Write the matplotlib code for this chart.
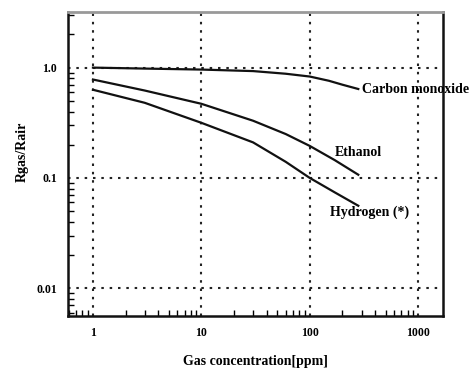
import numpy as np
import matplotlib.pyplot as plt
from matplotlib.ticker import LogLocator, NullFormatter

plt.rcParams['font.family'] = ['Liberation Serif', 'DejaVu Serif']

# values (log-log)
co_x = [1, 3, 10, 30, 60, 100, 150, 200, 280]
co_y = [1.0, 0.98, 0.96, 0.93, 0.88, 0.83, 0.76, 0.7, 0.64]
eth_x = [1, 3, 10, 30, 60, 100, 170, 280]
eth_y = [0.78, 0.62, 0.47, 0.33, 0.25, 0.195, 0.145, 0.107]
h2_x = [1, 3, 10, 30, 60, 100, 170, 280]
h2_y = [0.63, 0.48, 0.316, 0.21, 0.14, 0.1, 0.074, 0.056]

x_ticks = [1, 10, 100, 1000]
x_labels = ['1', '10', '100', '1000']
y_ticks = [0.01, 0.1, 1.0]
y_labels = ['0.01', '0.1', '1.0']

fig = plt.figure(figsize=(4.73, 3.71), dpi=100)
ax = fig.add_axes([0.144, 0.148, 0.793, 0.82])

ax.plot(co_x, co_y, color='#111111', lw=1.6)
ax.plot(eth_x, eth_y, color='#111111', lw=1.6)
ax.plot(h2_x, h2_y, color='#111111', lw=1.6)

ax.set_xscale('log')
ax.set_yscale('log')
ax.set_xlim(0.59, 1700)
ax.set_ylim(0.0056, 3.2)

ax.set_xticks(x_ticks)
ax.set_xticklabels(x_labels)
ax.set_yticks(y_ticks)
ax.set_yticklabels(y_labels)
ax.xaxis.set_minor_locator(LogLocator(base=10, subs=np.arange(2, 10)))
ax.yaxis.set_minor_locator(LogLocator(base=10, subs=np.arange(2, 10)))
ax.xaxis.set_minor_formatter(NullFormatter())
ax.yaxis.set_minor_formatter(NullFormatter())
ax.tick_params(which='major', direction='in', length=0, labelsize=8.5, pad=8)
ax.tick_params(which='minor', direction='in', length=4, width=1)
for lab in ax.get_xticklabels() + ax.get_yticklabels():
    lab.set_fontweight('bold')

ax.grid(True, which='major', color='#222222', ls=(0, (1.2, 2.8)), lw=1.5)

for s in ['left', 'bottom', 'right']:
    ax.spines[s].set_linewidth(1.8)
    ax.spines[s].set_color('#111111')
ax.spines['top'].set_color('#999999')
ax.spines['top'].set_linewidth(2)

ax.text(300, 0.64, 'Carbon monoxide', fontsize=10, fontweight='bold', va='center', ha='left')
ax.text(170, 0.17, 'Ethanol', fontsize=10, fontweight='bold', va='center', ha='left')
ax.text(152, 0.049, 'Hydrogen (*)', fontsize=10, fontweight='bold', va='center', ha='left')

ax.set_xlabel('Gas concentration[ppm]', fontsize=10, fontweight='bold')
ax.set_ylabel('Rgas/Rair', fontsize=10, fontweight='bold')
ax.xaxis.set_label_coords(0.5, -0.128)
ax.yaxis.set_label_coords(-0.105, 0.54)

fig.savefig('out.png', dpi=100)
